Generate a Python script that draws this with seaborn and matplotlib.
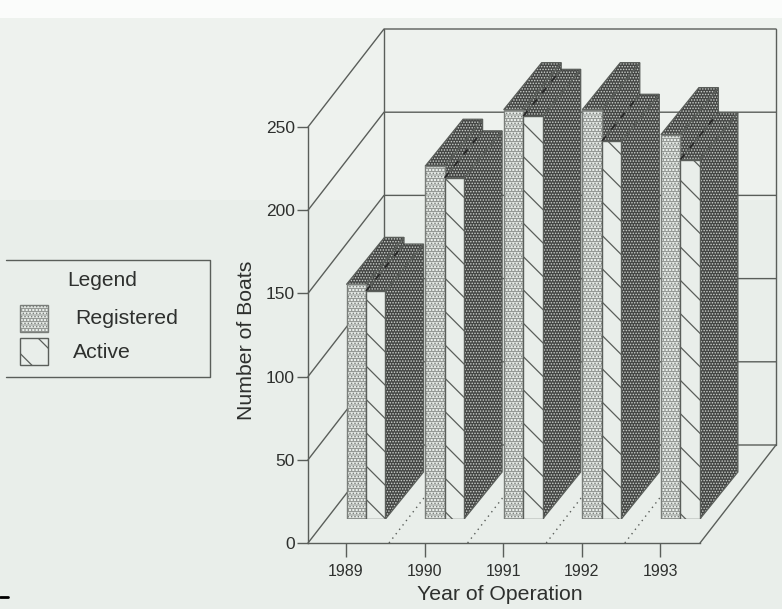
import matplotlib
matplotlib.use('Agg')
import matplotlib.pyplot as plt
from matplotlib.patches import Polygon, Rectangle
from matplotlib.lines import Line2D
import pandas as pd
import seaborn as sns

# values
years = ['1989', '1990', '1991', '1992', '1993']
registered = [141, 212, 246, 246, 231]
active = [137, 205, 242, 227, 216]
y_ticks = [0, 50, 100, 150, 200, 250]

W, H = 782, 609
BG = '#e9eeea'
BG_UP = '#eef2ee'
LINE = '#5a5e5a'
LINE_SOFT = '#7a7e7a'
TXT = '#2e302e'
DARK = '#444644'

sns.set_theme(style='white')
plt.rcParams['font.family'] = ['Liberation Sans', 'DejaVu Sans']


def px_axes(fig, x0, x1, ytop, ybot, **kw):
    return fig.add_axes([x0 / W, 1 - ybot / H, (x1 - x0) / W, (ybot - ytop) / H], **kw)


def shaded(ax, pts, face, hatch, hcolor, z, hlw=0.7):
    # hatch colour comes from edgecolor, so the outline goes on separately
    p = Polygon(pts, closed=True, facecolor=face, edgecolor=hcolor, hatch=hatch, lw=0, zorder=z)
    p.set_hatch_linewidth(hlw)
    ax.add_patch(p)
    ax.add_patch(Polygon(pts, closed=True, fill=False, edgecolor=LINE, lw=0.9, zorder=z + 0.1))


fig = plt.figure(figsize=(W / 100, H / 100), dpi=100, facecolor=BG)
fig.add_artist(Rectangle((0, 1 - 200 / H), 1, 200 / H, transform=fig.transFigure,
                         color=BG_UP, lw=0, zorder=-2))
fig.add_artist(Rectangle((0, 1 - 18 / H), 1, 18 / H, transform=fig.transFigure,
                         color='#fbfcfb', lw=0, zorder=-1))

# front of the frame: real axis with the tick labels
px_per_cat = 78.6
px_per_unit = 416 / 250
ax = px_axes(fig, 308, 700, 127, 543)
ax.set_facecolor('none')
ax.set_xlim((308 - 346) / px_per_cat, (700 - 346) / px_per_cat)
ax.set_ylim(0, 250)
ax.set_xticks(range(len(years)), years, fontsize=11.5, color=TXT)
ax.set_yticks(y_ticks, y_ticks, fontsize=12.5, color=TXT)
ax.tick_params(axis='y', length=8, width=1, color=LINE, pad=1.5, left=True)
ax.tick_params(axis='x', length=10, width=1, color=LINE, pad=5, bottom=True)
ax.set_xlabel('Year of Operation', fontsize=15.3, color=TXT)
ax.set_ylabel('Number of Boats', fontsize=15.3, color=TXT)
ax.xaxis.set_label_coords((500 - 308) / 392, -(595 - 543) / 416, transform=ax.transAxes)
ax.xaxis.label.set_va('center')
ax.yaxis.set_label_coords(-(308 - 246) / 392, (543 - 340) / 416, transform=ax.transAxes)
ax.yaxis.label.set_va('center')
sns.despine(ax=ax)
for s in ['left', 'bottom']:
    ax.spines[s].set_color(LINE)
    ax.spines[s].set_linewidth(1)

# walls and floor, going back into the picture
dx_wall = 76 / px_per_cat
dy_wall = 98 / px_per_unit
x_l, x_r = ax.get_xlim()
for v in y_ticks:
    ax.plot([x_l, x_l + dx_wall, x_r + dx_wall], [v, v + dy_wall, v + dy_wall],
            color=LINE, lw=1, clip_on=False, zorder=1)
ax.plot([x_l + dx_wall] * 2, [dy_wall, 250 + dy_wall], color=LINE, lw=1, clip_on=False, zorder=1)
ax.plot([x_r + dx_wall] * 2, [dy_wall, 250 + dy_wall], color=LINE, lw=1, clip_on=False, zorder=1)
ax.plot([x_r, x_r + dx_wall], [0, dy_wall], color=LINE, lw=1, clip_on=False, zorder=1)
for i in range(4):
    x0 = i + (389 - 346) / px_per_cat
    ax.plot([x0, x0 + dx_wall], [0, dy_wall], color=LINE, lw=1, ls=(0, (1, 3)), clip_on=False, zorder=1)

# bars stand a bit in from the front edge, so they get their own axes
base_y = 519
ax_b = px_axes(fig, 308, 778, 29, base_y)
ax_b.set_facecolor('none')
df = pd.DataFrame({
    'year': years * 2,
    'boats': registered + active,
    'kind': ['Registered'] * len(years) + ['Active'] * len(years),
})
sns.barplot(data=df, x='year', y='boats', hue='kind', hue_order=['Registered', 'Active'],
            width=0.496, gap=0, legend=False, ax=ax_b, saturation=1,
            palette=[BG, BG], edgecolor=LINE, linewidth=1)
ax_b.set_xlim((308 - 366) / px_per_cat, (778 - 366) / px_per_cat)
ax_b.set_ylim(0, (base_y - 29) / px_per_unit)
ax_b.axis('off')

dx = 38 / px_per_cat
dy = 47 / px_per_unit
front_style = [('-----.....', 0.6, LINE_SOFT), ('\\', 0.9, LINE)]
for h, bars in enumerate(ax_b.containers):
    hatch, hlw, edge = front_style[h]
    for i, b in enumerate(bars):
        x0, x1, top = b.get_x(), b.get_x() + b.get_width(), b.get_height()
        z = 10 * (i + 1) + 2 * h
        b.set_hatch(hatch)
        b.set_hatch_linewidth(hlw)
        b.set_edgecolor(edge)
        b.set_zorder(z + 6)
        top_pts = [(x0, top), (x0 + dx, top + dy), (x1 + dx, top + dy), (x1, top)]
        side_pts = [(x1, 0), (x1 + dx, dy), (x1 + dx, top + dy), (x1, top)]
        shaded(ax_b, top_pts, DARK, '......', '#cdd1cd', z)
        shaded(ax_b, side_pts, DARK, '......', '#cdd1cd', z)
        # darker streak where the two tops meet
        if h == 1:
            ax_b.plot([x0, x0 + dx], [top, top + dy], color='#262626', lw=1.2,
                      ls=(0, (4, 5)), zorder=z + 4)

# legend box, open to the left edge of the page
lg = px_axes(fig, 0, 220, 250, 390)
lg.set_xlim(0, 220)
lg.set_ylim(390, 250)
lg.axis('off')
lg.plot([6, 210, 210, 6], [260, 260, 377, 377], color=LINE, lw=1)
lg.text(102, 280, 'Legend', ha='center', va='center', fontsize=15, color=TXT)
lg.text(75, 318, 'Registered', ha='left', va='center', fontsize=15.3, color=TXT)
lg.text(73, 352, 'Active', ha='left', va='center', fontsize=15.3, color=TXT)
for y0, (hatch, hlw, edge) in zip([305, 338], front_style):
    r = Rectangle((20, y0), 28, 27, facecolor=BG, edgecolor=edge, hatch=hatch, lw=1)
    r.set_hatch_linewidth(hlw)
    lg.add_patch(r)

# scan artefact in the bottom corner
fig.add_artist(Line2D([0, 8 / W], [1 - 597 / H] * 2, color='black', lw=2))

fig.savefig('out.png', dpi=100, facecolor=fig.get_facecolor())
